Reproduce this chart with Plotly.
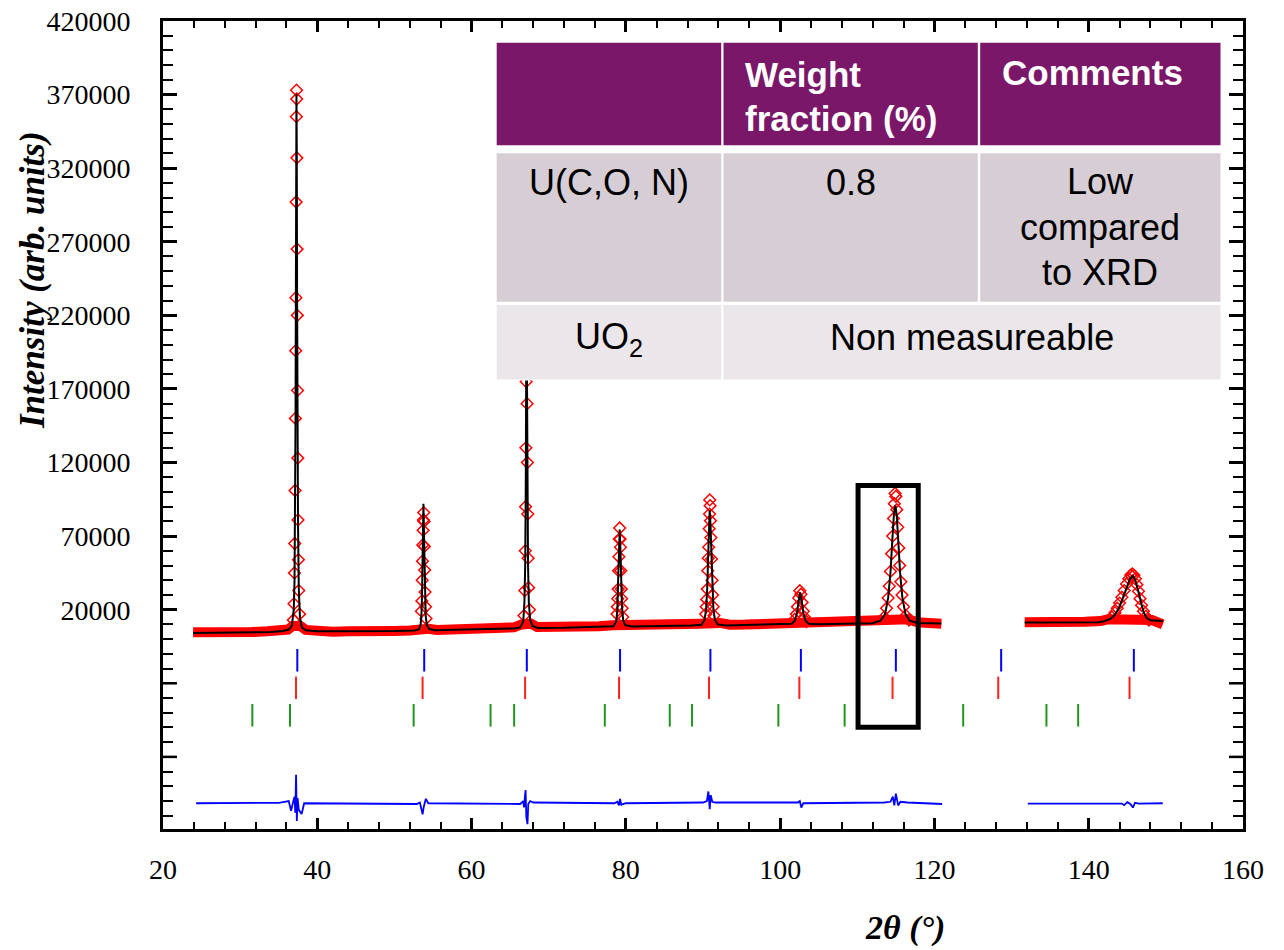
import plotly.graph_objects as go

# ---------------- axes ----------------
x_range = [20, 160]
y_range = [-129000, 420000]
x_tickvals = [20, 40, 60, 80, 100, 120, 140, 160]
x_ticktext = ["20", "40", "60", "80", "100", "120", "140", "160"]
y_tickvals = [20000, 70000, 120000, 170000, 220000, 270000, 320000, 370000, 420000]
y_ticktext = ["20000", "70000", "120000", "170000", "220000", "270000", "320000", "370000", "420000"]
y_major_unlabeled = [-80000, -30000]
x_title = "2θ (°)"
y_title = "Intensity (arb. units)"

# ---------------- observed background band ----------------
obs_bg_x = [23.9, 25.5, 27.5, 29.5, 31.5, 33.5, 35.0, 36.2, 36.8, 37.8, 38.5, 40, 42, 44, 46, 48, 50, 52, 53.0,
            54.4, 55.5, 57.5, 59.5, 61.5, 63.5, 65.5, 66.5, 67.7, 68.5, 70.5, 72.5, 74.5, 76.5, 78.3, 80.0, 81.5,
            83.5, 85.5, 87.5, 89.5, 92.2, 93.5, 95.5, 97.5, 99.5, 101.3, 104.0, 105.5, 107.5, 109.5, 111.5, 113.2,
            116.6, 117.8, 119.5, 120.9, None,
            131.7, 133.5, 135.5, 137.5, 139.5, 141.5, 142.5, 148.2, 149.0, 149.6]
obs_bg_y = [4600, 4300, 4600, 4400, 4800, 5300, 5600, 6500, 9000, 9000, 6300, 5400, 5100, 5300, 5000, 5300, 5600, 5900, 7000,
            7000, 6200, 6400, 6700, 7000, 7300, 8000, 10000, 10500, 8200, 8000, 8300, 8500, 8700, 9500, 9500, 8900,
            9200, 9400, 9700, 10500, 11000, 9800, 9900, 10200, 10300, 11000, 11200, 10400, 10500, 10900, 11300, 13000,
            13500, 11500, 11000, 10400, None,
            11500, 11300, 11500, 11600, 11800, 12300, 13500, 13000, 11500, 10000]

# ---------------- observed peak points (diamonds) ----------------
obs_pk_x = [36.9, 36.98, 37.04, 37.08, 37.12, 37.16, 37.2, 37.23, 37.26, 37.29, 37.31, 37.33, 37.35, 37.38, 37.41,
            37.44, 37.47, 37.5, 37.55, 37.6, 37.7,
            53.5, 53.56, 53.6, 53.64, 53.68, 53.72, 53.76, 53.8, 53.84, 53.88, 53.92, 53.97, 54.03, 54.1,
            66.8, 66.9, 66.96, 67.0, 67.04, 67.08, 67.11, 67.14, 67.17, 67.2, 67.24, 67.28, 67.33, 67.4, 67.5,
            78.85, 78.9, 78.95, 79.0, 79.05, 79.1, 79.15, 79.2, 79.26, 79.3, 79.35, 79.4, 79.45, 79.52, 79.6,
            90.35, 90.42, 90.48, 90.55, 90.62, 90.68, 90.74, 90.8, 90.85, 90.88, 90.92, 90.97, 91.02, 91.1, 91.17,
            91.24, 91.32, 91.42,
            101.9, 102.1, 102.25, 102.4, 102.55, 102.7, 102.85, 103.0, 103.15, 103.4,
            113.5, 113.8, 114.0, 114.15, 114.3, 114.45, 114.58, 114.7, 114.8, 114.9, 115.0, 115.12, 115.25, 115.38,
            115.5, 115.65, 115.8, 116.0, 116.3, 116.7,
            143.0, 143.4, 143.7, 144.0, 144.3, 144.6, 144.9, 145.2, 145.45, 145.65, 145.85, 146.05, 146.25, 146.45,
            146.65, 146.85, 147.1, 147.4, 147.8]
obs_pk_y = [13000, 24000, 45000, 65000, 101000, 150000, 196000, 232000, 297000, 355000, 373000, 367000, 327000, 265000, 220000,
            169000, 123000, 81000, 54000, 33000, 17000,
            19000, 26000, 40000, 53000, 64000, 74000, 81000, 86000, 80000, 63000, 47000, 32000, 22000, 14000,
            16000, 33000, 60000, 90000, 130000, 175000, 215000, 245000, 200000, 160000, 120000, 85000, 55000, 35000, 20000,
            17000, 22000, 27500, 34000, 46500, 56000, 68000, 75500, 68000, 62500, 46500, 34000, 27500, 21000, 15000,
            17000, 22000, 27000, 34000, 46500, 55000, 62500, 75000, 85000, 94600, 90700, 80500, 69000, 54500, 40000,
            30000, 22000, 16000,
            13500, 17000, 22000, 28000, 32900, 30500, 25000, 19000, 15000, 12000,
            15000, 21000, 28000, 36000, 46000, 58000, 70000, 82000, 92000, 99000, 97000, 88000, 76000, 62000,
            50000, 39000, 30000, 22000, 16000, 13000,
            15000, 18000, 21000, 24500, 28500, 33000, 37500, 41000, 43500, 44300, 43500, 41000, 37000, 32500,
            27500, 23000, 19000, 15500, 13000]

# ---------------- calculated profile ----------------
calc_x = [23.9, 30, 34, 35.5, 36.3, 36.7, 36.95, 37.05, 37.12, 37.18, 37.22, 37.26, 37.30, 37.34, 37.38, 37.43, 37.5,
          37.6, 37.75, 38.0, 38.5, 40, 45, 50, 52.6, 53.2, 53.4, 53.5, 53.58, 53.64, 53.7, 53.76, 53.82, 53.88, 53.95,
          54.05, 54.2, 54.5, 55.2, 60, 64, 65.5, 66.3, 66.7, 66.85, 66.95, 67.02, 67.08, 67.13, 67.18, 67.24, 67.32,
          67.42, 67.6, 67.9, 68.6, 72, 76, 77.8, 78.4, 78.75, 78.9, 79.0, 79.1, 79.2, 79.3, 79.4, 79.5, 79.65, 79.9,
          80.8, 85, 88.5, 89.8, 90.2, 90.4, 90.55, 90.68, 90.78, 90.87, 90.97, 91.07, 91.2, 91.35, 91.55, 91.9, 93,
          97, 100.5, 101.5, 101.9, 102.2, 102.4, 102.6, 102.8, 103.0, 103.3, 103.7, 105, 108, 112, 113, 113.6, 114.0,
          114.3, 114.55, 114.75, 114.93, 115.1, 115.3, 115.55, 115.85, 116.25, 116.8, 117.8, 120.9, None,
          131.7, 137, 141.3, 142.0, 142.8, 143.4, 143.9, 144.4, 144.9, 145.35, 145.72, 146.05, 146.4, 146.75, 147.1,
          147.5, 148.0, 149.6]
calc_y = [4200, 4300, 4800, 5600, 6500, 9000, 20000, 40000, 80000, 150000, 230000, 320000, 370500, 330000, 240000, 150000, 80000,
          35000, 15000, 8000, 6000, 5400, 5200, 5500, 5900, 6800, 10000, 16000, 30000, 50000, 75000, 92000, 75000, 50000, 30000,
          16000, 9500, 7000, 6000, 6400, 6900, 7300, 8000, 12000, 25000, 50000, 100000, 180000, 240000, 180000, 100000, 50000,
          25000, 13000, 9000, 7600, 7700, 8200, 8400, 8800, 12000, 20000, 40000, 60000, 74500, 60000, 38000, 22000, 13000, 9500,
          8600, 8900, 9200, 9800, 13000, 20000, 35000, 58000, 78000, 87500, 78000, 58000, 35000, 20000, 13000, 10000, 9300,
          9700, 10000, 10500, 12500, 18000, 26000, 31800, 26000, 18000, 12500, 10500, 10100, 10300, 10800, 12500, 17000, 28000,
          45000, 68000, 85000, 90700, 85000, 68000, 45000, 28000, 17000, 12500, 11000, 10700, None,
          11300, 11400, 11500, 12200, 13700, 16500, 21000, 27500, 35000, 41000, 43100, 40000, 33000, 25000, 18500,
          14500, 12800, 12300]

# ---------------- difference curve ----------------
diff_x = [24.3, 30, 35, 36.3, 36.6, 36.9, 37.05, 37.15, 37.25, 37.35, 37.45, 37.6, 37.97, 38.3, 45, 52.9, 53.3, 53.65,
          53.8, 54.07, 54.4, 60, 66.3, 66.7, 66.8, 66.9, 67.0, 67.1, 67.25, 67.35, 67.6, 68, 78.5, 78.9, 79.1, 79.25,
          79.4, 80, 90.0, 90.5, 90.7, 90.87, 91.0, 91.2, 91.6, 102.3, 102.55, 102.74, 103.0, 113.5, 114.3, 114.6,
          114.8, 115.0, 115.3, 115.6, 116.5, 121, None,
          132.1, 138, 141, 144.3, 144.6, 145.0, 145.4, 145.72, 146.0, 146.5, 149.6]
diff_y = [-111500, -111500, -111200, -110000, -116700, -109900, -107000, -118000, -92200, -123500, -108000, -116000, -118800,
          -111500, -111500, -112000, -111000, -119000, -114000, -108500, -111500, -111500, -112000, -110000, -114400,
          -108000, -102600, -121000, -125700, -112000, -110000, -111000, -111500, -110500, -113000, -108500, -112500,
          -111500, -111000, -110000, -103500, -115500, -106000, -110500, -111000, -111000, -110000, -114400, -111500,
          -111000, -110500, -107000, -113000, -105000, -113000, -110500, -111000, -112000, None,
          -111700, -111700, -111200, -111700, -112800, -110800, -112000, -114400, -111200, -111700, -111500]

# ---------------- Bragg reflection positions ----------------
bragg_blue = [37.41, 53.86, 67.16, 79.25, 90.96, 102.69, 115.0, 128.65, 145.85]
bragg_red = [37.24, 53.65, 66.94, 79.12, 90.78, 102.49, 114.57, 128.27, 145.29]
bragg_green = [31.58, 36.46, 52.49, 62.46, 65.52, 77.27, 85.69, 88.58, 99.77, 108.36, 123.73, 134.52, 138.63]
bragg_rows = {"blue": [-6700, -22000], "red": [-25500, -40700], "green": [-44100, -59400]}
bragg_colors = {"blue": "#0000FF", "red": "#FF2020", "green": "#1E961E"}

# highlighted region (data coordinates)
box_x = [110.1, 117.9]
box_y = [-59900, 104400]

# ---------------- inset table ----------------
tbl_header_col2 = ["Weight", "fraction (%)"]
tbl_header_col3 = ["Comments"]
tbl_row1_col1 = ["U(C,O, N)"]
tbl_row1_col2 = ["0.8"]
tbl_row1_col3 = ["Low", "compared", "to XRD"]
tbl_row2_col1 = ["UO<sub>2</sub>"]
tbl_row2_merged = ["Non measureable"]

fig = go.Figure()

fig.add_trace(go.Scatter(x=obs_bg_x, y=obs_bg_y, mode="lines", line=dict(color="#FF0000", width=10),
                         connectgaps=False, hoverinfo="skip", showlegend=False))
fig.add_trace(go.Scatter(x=obs_pk_x, y=obs_pk_y, mode="markers",
                         marker=dict(symbol="diamond-open", size=9, color="#FF0000", line=dict(width=1.5, color="#FF0000")),
                         showlegend=False))
fig.add_trace(go.Scatter(x=calc_x, y=calc_y, mode="lines", line=dict(color="black", width=2),
                         connectgaps=False, showlegend=False))
fig.add_trace(go.Scatter(x=diff_x, y=diff_y, mode="lines", line=dict(color="#0000FF", width=1.8),
                         connectgaps=False, showlegend=False))

for name, positions in [("blue", bragg_blue), ("red", bragg_red), ("green", bragg_green)]:
    xs, ys = [], []
    y0, y1 = bragg_rows[name]
    for p in positions:
        xs += [p, p, None]
        ys += [y0, y1, None]
    fig.add_trace(go.Scatter(x=xs, y=ys, mode="lines", line=dict(color=bragg_colors[name], width=2),
                             connectgaps=False, showlegend=False))

# geometry (window pixels; the page margin is removed after drawing)
W, H = 1284, 950
SL, SR, ST, SB = 163, 1243, 21, 829  # plot area


def px_x(p):
    return (p - SL) / (SR - SL)


def px_y(p):
    return (SB - p) / (SB - ST)


shapes = []
# frame (coincides with the axis lines, drawn just outside the plot area)
fx, fy = 1.5 / (SR - SL), 1.5 / (SB - ST)
shapes.append(dict(type="rect", xref="paper", yref="paper", x0=-fx, x1=1 + fx, y0=-fy, y1=1 + fy,
                   line=dict(color="black", width=3), fillcolor="rgba(0,0,0,0)", layer="above"))
# highlight box
shapes.append(dict(type="rect", xref="x", yref="y", x0=box_x[0], x1=box_x[1], y0=box_y[0], y1=box_y[1],
                   line=dict(color="black", width=5), layer="above"))
# unlabeled major y ticks (left and right)
for v in y_major_unlabeled:
    shapes.append(dict(type="line", xref="paper", yref="y", x0=0, x1=14 / (SR - SL), y0=v, y1=v,
                       line=dict(color="black", width=2.5), layer="above"))
    shapes.append(dict(type="line", xref="paper", yref="y", x0=1, x1=1 - 14 / (SR - SL), y0=v, y1=v,
                       line=dict(color="black", width=2.5), layer="above"))

# table geometry (window pixels)
c0, c1, c2, c3, c4, c5 = 496.7, 721.2, 723.5, 977.8, 980.2, 1220.5
r0, r1, r2, r3, r4, r5 = 42.7, 145.3, 153.3, 301.7, 304.9, 379.5
purple, row1c, row2c = "#7A1769", "#D7CED5", "#EBE6EA"


def rect(x0, x1, y0, y1, color):
    return dict(type="rect", xref="paper", yref="paper", x0=px_x(x0), x1=px_x(x1), y0=px_y(y1), y1=px_y(y0),
                fillcolor=color, line=dict(width=0), layer="above")


shapes.append(rect(c0 - 1, c5 + 1, r0 - 1, r5 + 1, "white"))
shapes += [rect(c0, c1, r0, r1, purple), rect(c2, c3, r0, r1, purple), rect(c4, c5, r0, r1, purple)]
shapes += [rect(c0, c1, r2, r3, row1c), rect(c2, c3, r2, r3, row1c), rect(c4, c5, r2, r3, row1c)]
shapes += [rect(c0, c1, r4, r5, row2c), rect(c2, c5, r4, r5, row2c)]

annotations = []
tfont = "Liberation Sans, Arial, sans-serif"


def lines(texts, x, y_first, spacing, color, bold=False, xanchor="center", size=36):
    out = []
    for i, t in enumerate(texts):
        out.append(dict(text=("<b>%s</b>" % t) if bold else t, x=px_x(x), y=px_y(y_first + i * spacing),
                        xref="paper", yref="paper", xanchor=xanchor, yanchor="middle", showarrow=False,
                        font=dict(family=tfont, size=size, color=color)))
    return out


annotations += lines(tbl_header_col2, c2 + 19, 75, 43.5, "white", bold=True, xanchor="left", size=35)
annotations += lines(tbl_header_col3, c4 + 20, 73, 43.5, "white", bold=True, xanchor="left", size=35)
annotations += lines(tbl_row1_col1, (c0 + c1) / 2, 183, 45, "black")
annotations += lines(tbl_row1_col2, (c2 + c3) / 2, 183, 45, "black")
annotations += lines(tbl_row1_col3, (c4 + c5) / 2, 182, 45, "black")
annotations += lines(tbl_row2_col1, (c0 + c1) / 2, 339, 45, "black")
annotations += lines(tbl_row2_merged, (c2 + c5) / 2, 337, 45, "black")

# axis titles
serif = "Liberation Serif, Times New Roman, serif"
annotations.append(dict(text="<b><i>%s</i></b>" % y_title, x=px_x(33), y=px_y(280), xref="paper", yref="paper",
                        xanchor="center", yanchor="middle", textangle=-90, showarrow=False,
                        font=dict(family=serif, size=35, color="black")))
annotations.append(dict(text="<b><i>%s</i></b>" % x_title, x=px_x(905), y=px_y(949), xref="paper", yref="paper",
                        xanchor="center", yanchor="bottom", showarrow=False,
                        font=dict(family=serif, size=34, color="black")))

fig.update_layout(
    width=W, height=H,
    margin=dict(l=SL, r=W - SR, t=ST, b=H - SB, autoexpand=False),
    paper_bgcolor="white", plot_bgcolor="white",
    shapes=shapes, annotations=annotations, showlegend=False,
    xaxis=dict(range=x_range, tickmode="array", tickvals=x_tickvals, ticktext=x_ticktext,
               showgrid=False, zeroline=False, showline=True, linecolor="black", linewidth=3, mirror="allticks",
               ticks="inside", ticklen=11, tickwidth=2.5, tickcolor="black", ticklabelstandoff=13,
               ticklabeloverflow="allow",
               tickfont=dict(family=serif, size=28, color="black"),
               minor=dict(ticks="inside", dtick=4, tick0=0, ticklen=7, tickwidth=1.5, tickcolor="black", showgrid=False)),
    yaxis=dict(range=y_range, tickmode="array", tickvals=y_tickvals, ticktext=y_ticktext,
               showgrid=False, zeroline=False, showline=True, linecolor="black", linewidth=3, mirror="allticks",
               ticks="inside", ticklen=14, tickwidth=2.5, tickcolor="black", ticklabelstandoff=24,
               ticklabeloverflow="allow",
               tickfont=dict(family=serif, size=28, color="black"),
               minor=dict(ticks="inside", dtick=10000, tick0=0, ticklen=10, tickwidth=1.5, tickcolor="black", showgrid=False)),
)

fig.write_html("out.html", config={"displayModeBar": False},
               post_script="document.body.style.margin='0px';")
